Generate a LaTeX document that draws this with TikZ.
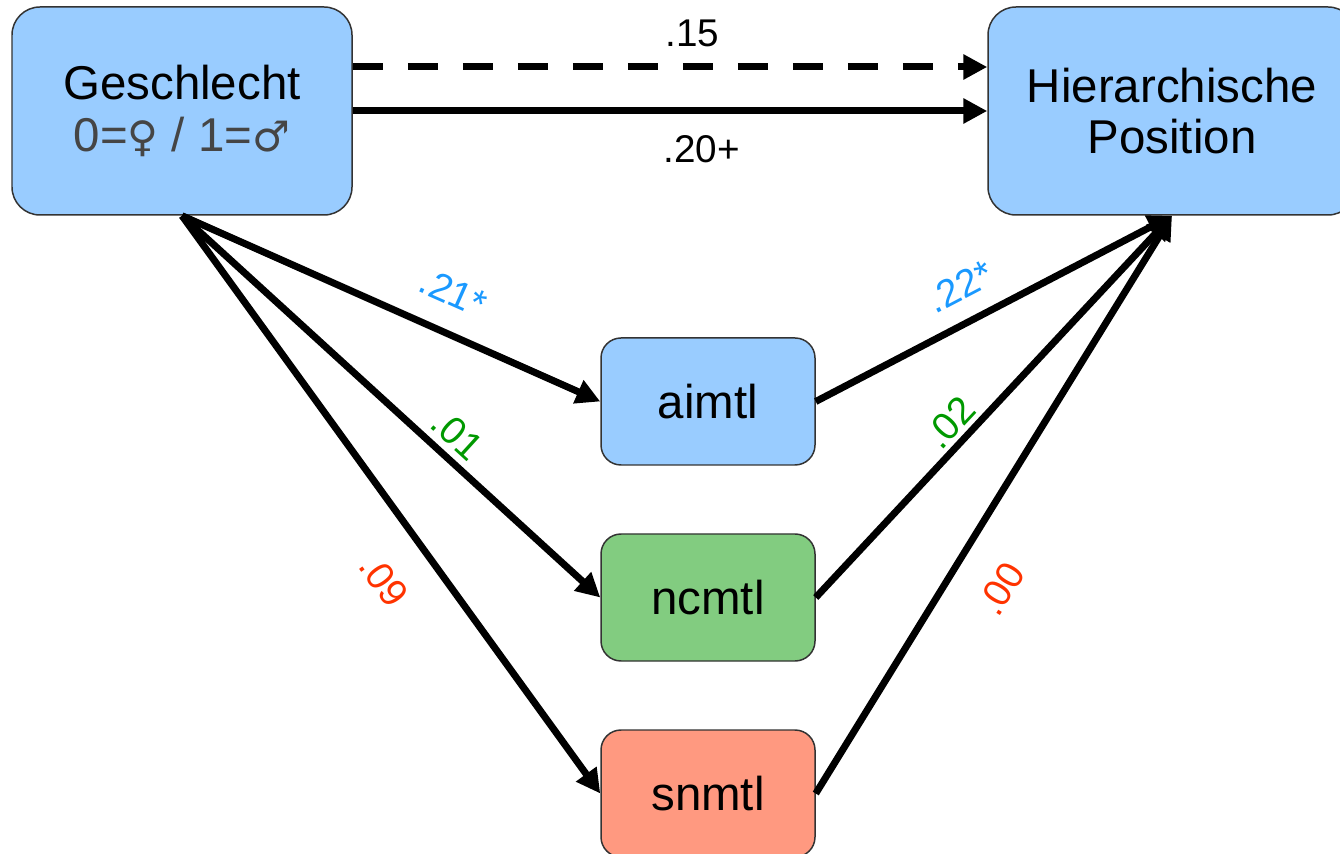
\documentclass[tikz,border=0pt]{standalone}
\usepackage{fontspec}
\setmainfont{Liberation Sans}
\newfontfamily\symboles{DejaVu Sans}
\usetikzlibrary{arrows.meta}

\definecolor{bleuBoite}{HTML}{99CCFF}
\definecolor{vertBoite}{HTML}{82CC80}
\definecolor{rougeBoite}{HTML}{FF9980}
\definecolor{bordBoite}{HTML}{333333}
\definecolor{texteGris}{HTML}{454545}
\definecolor{coefBleu}{HTML}{1A99FF}
\definecolor{coefVert}{HTML}{009900}
\definecolor{coefRouge}{HTML}{FF3300}

\begin{document}
\begin{tikzpicture}[
    boite/.style={draw=bordBoite, line width=0.85pt, align=center, inner sep=0pt,
      font=\fontsize{27}{29.5}\selectfont},
    grande/.style={boite, minimum height=4.16cm, rounded corners=0.56cm},
    petite/.style={boite, minimum width=4.28cm, minimum height=2.54cm, rounded corners=0.4cm},
    fleche/.style={line width=0.14cm, -{Triangle[length=0.48cm,width=0.48cm]}},
    coef/.style={font=\fontsize{22}{24}\selectfont, inner sep=0pt},
  ]
  \useasboundingbox (0,0) rectangle (26.8,17.06);

  % Variables
  \node[grande, fill=bleuBoite, minimum width=6.8cm] (gesch) at (3.64,14.84)
    {Geschlecht\\{\color{texteGris}0={\symboles\fontsize{24}{29.5}\selectfont ♀} / 1={\symboles\fontsize{24}{29.5}\selectfont ♂}}};
  \node[grande, fill=bleuBoite, minimum width=7.36cm] (hier) at (23.44,14.84)
    {Hierarchische\\Position};

  % Médiateurs
  \node[petite, fill=bleuBoite] (aimtl) at (14.16,9.03) {aimtl};
  \node[petite, fill=vertBoite] (ncmtl) at (14.16,5.11) {ncmtl};
  \node[petite, fill=rougeBoite] (snmtl) at (14.16,1.19) {snmtl};

  % Effet total et direct
  \draw[fleche, dash pattern=on 0.6cm off 0.5cm] (gesch.east |- 0,15.72) -- (hier.west |- 0,15.72)
    node[coef, pos=0.535, above=0.34cm] {.15};
  \draw[fleche] (gesch.east) -- (gesch.east -| hier.west)
    node[coef, pos=0.55, below=0.42cm] {.20+};

  % Chemins a
  \draw[fleche] (gesch.south) -- (aimtl.west)
    node[coef, coefBleu, sloped, pos=0.61, above=0.46cm] {.21*};
  \draw[fleche] (gesch.south) -- (ncmtl.west)
    node[coef, coefVert, sloped, pos=0.62, above=0.13cm] {.01};
  \draw[fleche] (gesch.south) -- (snmtl.west)
    node[coef, coefRouge, sloped, pos=0.58, below=0.66cm] {.09};

  % Chemins b
  \draw[fleche] (aimtl.east) -- (hier.south)
    node[coef, coefBleu, sloped, pos=0.45, above=0.36cm] {.22*};
  \draw[fleche] (ncmtl.east) -- (hier.south)
    node[coef, coefVert, sloped, pos=0.42, above=0.08cm] {.02};
  \draw[fleche] (snmtl.east) -- (hier.south)
    node[coef, coefRouge, sloped, pos=0.40, below=0.66cm] {.00};

\end{tikzpicture}
\end{document}
